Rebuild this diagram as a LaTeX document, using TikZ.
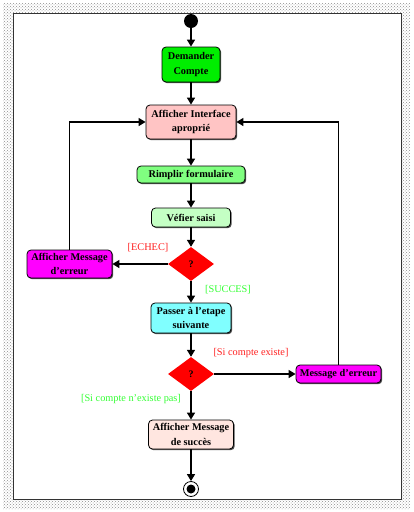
\documentclass[tikz,border=0pt]{standalone}
\usepackage{fontspec}
\setmainfont{Liberation Serif}
\usepackage{xcolor}
\usepackage{tikz}
\usetikzlibrary{arrows.meta,shapes.geometric,shadows,patterns}
\definecolor{actgreen}{HTML}{00EE00}
\definecolor{actpink}{HTML}{FFC4C4}
\definecolor{actlime}{HTML}{80FF80}
\definecolor{actmint}{HTML}{C4FFC4}
\definecolor{actcyan}{HTML}{80FFFF}
\definecolor{actrose}{HTML}{FFE6E0}
\definecolor{actmag}{HTML}{FF00FF}
\definecolor{guardred}{HTML}{FF2020}
\definecolor{guardgreen}{HTML}{33FF33}

\begin{document}
\begin{tikzpicture}[x=1pt,y=-1pt,
  act/.style={draw=black,line width=0.8pt,rounded corners=4pt,font=\bfseries\fontsize{10.3}{14.5}\selectfont,align=center,inner sep=1pt,
    drop shadow={shadow xshift=1.2pt,shadow yshift=-1.2pt,fill=black!70,opacity=1}},
  dec/.style={diamond,draw=none,fill=red,inner sep=0pt,minimum width=46pt,minimum height=34pt,aspect=1.35,font=\bfseries},
  lbl/.style={font=\fontsize{10.3}{12}\selectfont,inner sep=1pt},
  arr/.style={-{Triangle[length=7pt,width=8pt]},line width=1.4pt,black}
]
\useasboundingbox (0,0) rectangle (414,512);
% frame
\fill[pattern=crosshatch dots,pattern color=black!45,even odd rule] (3,3) rectangle (410,509) (13,13) rectangle (401,499);
\draw[line width=0.8pt,black!80] (13,13) rectangle (401,499);

\node[circle,fill=black,minimum size=14pt,inner sep=0pt] (start) at (191,21) {};
\node[act,fill=actgreen,minimum width=58pt,minimum height=35pt] (ask) at (191,64.5) {Demander\\Compte};
\node[act,fill=actpink,minimum width=90pt,minimum height=34pt] (iface) at (191,122) {Afficher Interface\\aproprié};
\node[act,fill=actlime,minimum width=108pt,minimum height=17pt] (form) at (191,174.5) {Rimplir formulaire};
\node[act,fill=actmint,minimum width=79pt,minimum height=19pt] (check) at (191,217.5) {Véfier saisi};
\node[dec] (d1) at (191,264) {?};
\node[act,fill=actmag,minimum width=85pt,minimum height=28pt] (err1) at (69.5,264) {Afficher Message\\d'erreur};
\node[act,fill=actcyan,minimum width=80pt,minimum height=30pt] (next) at (191,318) {Passer à l'etape\\suivante};
\node[dec] (d2) at (191,374) {?};
\node[act,fill=actmag,minimum width=85pt,minimum height=18pt] (err2) at (338.5,374) {Message d'erreur};
\node[act,fill=actrose,minimum width=85pt,minimum height=29pt] (ok) at (191,434.5) {Afficher Message\\de succès};
\node[circle,draw=black,line width=0.8pt,fill=white,minimum size=15pt,inner sep=0pt] (stop) at (191,489) {};
\node[circle,fill=black,minimum size=9pt,inner sep=0pt] at (stop) {};

\node[lbl,text=guardred] (echec) at (148,248) {[ECHEC]};
\node[lbl,text=guardgreen] (succes) at (228,290) {[SUCCES]};
\node[lbl,text=guardred] (exist) at (251,353) {[Si compte existe]};
\node[lbl,text=guardgreen] (noexist) at (131,399) {[Si compte n'existe pas]};

\draw[arr] (start) -- (ask);
\draw[arr] (ask) -- (iface);
\draw[arr] (iface) -- (form);
\draw[arr] (form) -- (check);
\draw[arr] (check) -- (d1);
\draw[arr] (d1) -- (err1);
\draw[arr] (d1) -- (next);
\draw[arr] (next) -- (d2);
\draw[arr] (d2) -- (err2);
\draw[arr] (d2) -- (ok);
\draw[arr] (ok) -- (stop);
\draw[arr] (err1.north) |- (iface.west);
\draw[arr] (err2.north) |- (iface.east);
\end{tikzpicture}
\end{document}
